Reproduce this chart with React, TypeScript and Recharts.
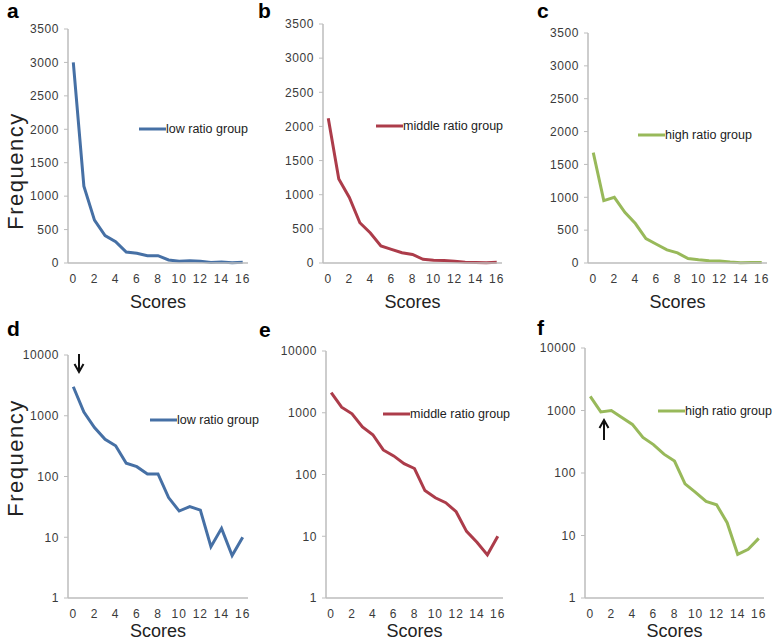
import { LineChart, Line, XAxis, YAxis, Legend } from 'recharts'

// scores 0..16, frequency per score for each ratio group
const scores = [0, 1, 2, 3, 4, 5, 6, 7, 8, 9, 10, 11, 12, 13, 14, 15, 16]
const lowRatio = [3000, 1150, 640, 410, 320, 165, 145, 110, 110, 45, 27, 32, 28, 7, 14, 5, 10]
const middleRatio = [2120, 1230, 960, 590, 440, 250, 200, 150, 125, 55, 42, 35, 25, 12, 8, 5, 10]
const highRatio = [1680, 950, 1000, 770, 600, 370, 285, 200, 155, 67, 49, 35, 31, 16, 5, 6, 9]

const scoreTicks = [0, 2, 4, 6, 8, 10, 12, 14, 16]
const linearTicks = [0, 500, 1000, 1500, 2000, 2500, 3000, 3500]
const logTicks = [1, 10, 100, 1000, 10000]

const rows = scores.map((s, i) => ({
  score: s,
  low: lowRatio[i],
  middle: middleRatio[i],
  high: highRatio[i],
}))

// tick marks sit between categories, like an Excel category axis
const bandEdges = scores.map((s) => s - 0.5).concat(scores[scores.length - 1] + 0.5)

const AXIS = '#bdbdbd'
const TICK_TEXT = '#3a3a3a'
const BLUE = '#4670a5'
const RED = '#ac3c4a'
const GREEN = '#98b95a'

interface PanelProps {
  axisX: number
  top: number
  plotTop: number
  plotBottom: number
  plotRight: number
  log?: boolean
  dataKey: string
  name: string
  color: string
  legendX: number
  legendY: number
  row: number
}

const LegendLine = (props: any) => {
  const { payload } = props
  return (
    <div style={{ display: 'flex', alignItems: 'center', whiteSpace: 'nowrap' }}>
      {(payload || []).map((p: any) => (
        <span key={p.value} style={{ display: 'flex', alignItems: 'center' }}>
          <svg width={27} height={6} style={{ display: 'block' }}>
            <line x1={0} y1={3} x2={27} y2={3} stroke={p.color} strokeWidth={3} />
          </svg>
          <span style={{ fontSize: 12.5, color: '#222', lineHeight: '16px' }}>{p.value}</span>
        </span>
      ))}
    </div>
  )
}

function Panel(p: PanelProps) {
  const chartLeft = p.axisX - 50
  const width = p.plotRight - chartLeft + 12
  const height = 320
  const xh = p.row === 0 ? 48 : 42
  const mb = height - (p.plotBottom - p.top) - xh
  const labelOffset = 3
  return (
    <div style={{ position: 'absolute', left: chartLeft, top: p.top }}>
      <LineChart
        width={width}
        height={height}
        data={rows}
        margin={{ top: p.plotTop - p.top, right: 12, bottom: mb, left: 0 }}
      >
        <XAxis
          xAxisId="marks"
          type="number"
          dataKey="score"
          domain={[-0.5, 16.5]}
          ticks={bandEdges}
          height={0}
          axisLine={false}
          tick={false}
          tickSize={3}
          tickLine={{ stroke: AXIS }}
        />
        <XAxis
          xAxisId="main"
          type="number"
          dataKey="score"
          domain={[-0.5, 16.5]}
          ticks={scoreTicks}
          interval={0}
          height={xh}
          axisLine={{ stroke: AXIS, strokeWidth: 1.5 }}
          tickLine={false}
          tickSize={0}
          tickMargin={11}
          tick={{ fontSize: 12, fill: TICK_TEXT, letterSpacing: 1 }}
          label={{ value: 'Scores', position: 'insideBottom', offset: labelOffset, fontSize: 18, fill: '#222' }}
        />
        {p.log ? (
          <YAxis
            type="number"
            scale="log"
            domain={[1, 10000]}
            ticks={logTicks}
            interval={0}
            width={50}
            axisLine={{ stroke: AXIS, strokeWidth: 1.5 }}
            tickLine={{ stroke: AXIS }}
            tickSize={4}
            tickMargin={5}
            tick={{ fontSize: 12, fill: TICK_TEXT, letterSpacing: 0.6 }}
          />
        ) : (
          <YAxis
            type="number"
            domain={[0, 3500]}
            ticks={linearTicks}
            interval={0}
            width={50}
            axisLine={{ stroke: AXIS, strokeWidth: 1.5 }}
            tickLine={{ stroke: AXIS }}
            tickSize={4}
            tickMargin={5}
            tick={{ fontSize: 12, fill: TICK_TEXT, letterSpacing: 0.6 }}
          />
        )}
        <Legend
          layout="horizontal"
          verticalAlign="middle"
          align="center"
          content={LegendLine}
          wrapperStyle={{ left: p.legendX - chartLeft, top: p.legendY - p.top - 8, width: 'auto', right: 'auto' }}
        />
        <Line
          xAxisId="main"
          type="linear"
          dataKey={p.dataKey}
          name={p.name}
          stroke={p.color}
          strokeWidth={3}
          dot={false}
          isAnimationActive={false}
        />
      </LineChart>
    </div>
  )
}

export default function App() {
  return (
    <div
      style={{
        position: 'absolute',
        left: 0,
        top: 0,
        width: 778,
        height: 640,
        background: '#fff',
        fontFamily: '"Liberation Sans", Arial, sans-serif',
        overflow: 'hidden',
      }}
    >
      <Panel row={0} axisX={68} top={0} plotTop={29} plotBottom={263} plotRight={248}
        dataKey="low" name="low ratio group" color={BLUE} legendX={139} legendY={129} />
      <Panel row={0} axisX={323} top={0} plotTop={24} plotBottom={263} plotRight={502}
        dataKey="middle" name="middle ratio group" color={RED} legendX={376} legendY={126} />
      <Panel row={0} axisX={588} top={0} plotTop={33} plotBottom={263} plotRight={767}
        dataKey="high" name="high ratio group" color={GREEN} legendX={638} legendY={135} />
      <Panel row={1} log axisX={68} top={320} plotTop={355} plotBottom={598} plotRight={248}
        dataKey="low" name="low ratio group" color={BLUE} legendX={150} legendY={420} />
      <Panel row={1} log axisX={326} top={320} plotTop={351} plotBottom={598} plotRight={503}
        dataKey="middle" name="middle ratio group" color={RED} legendX={383} legendY={414} />
      <Panel row={1} log axisX={585} top={320} plotTop={348} plotBottom={598} plotRight={764}
        dataKey="high" name="high ratio group" color={GREEN} legendX={658} legendY={411} />

      <svg width={778} height={640} style={{ position: 'absolute', left: 0, top: 0, pointerEvents: 'none' }}>
        <g fontWeight="bold" fontSize={21} fill="#000">
          <text x={7} y={18}>a</text>
          <text x={258} y={18}>b</text>
          <text x={537} y={18}>c</text>
          <text x={7} y={336}>d</text>
          <text x={259} y={337}>e</text>
          <text x={537} y={335}>f</text>
        </g>
        <g fontSize={22} fill="#222" letterSpacing={1.5}>
          <text transform="translate(23,171) rotate(-90)" textAnchor="middle">Frequency</text>
          <text transform="translate(23,458) rotate(-90)" textAnchor="middle">Frequency</text>
        </g>
        <g stroke="#111" strokeWidth={2} fill="none">
          <line x1={79} y1={354} x2={79} y2={371} />
          <polyline points="74.5,364 79,372 83.5,364" />
          <line x1={604} y1={440} x2={604} y2={421} />
          <polyline points="599.5,428 604,420 608.5,428" />
        </g>
      </svg>
    </div>
  )
}
